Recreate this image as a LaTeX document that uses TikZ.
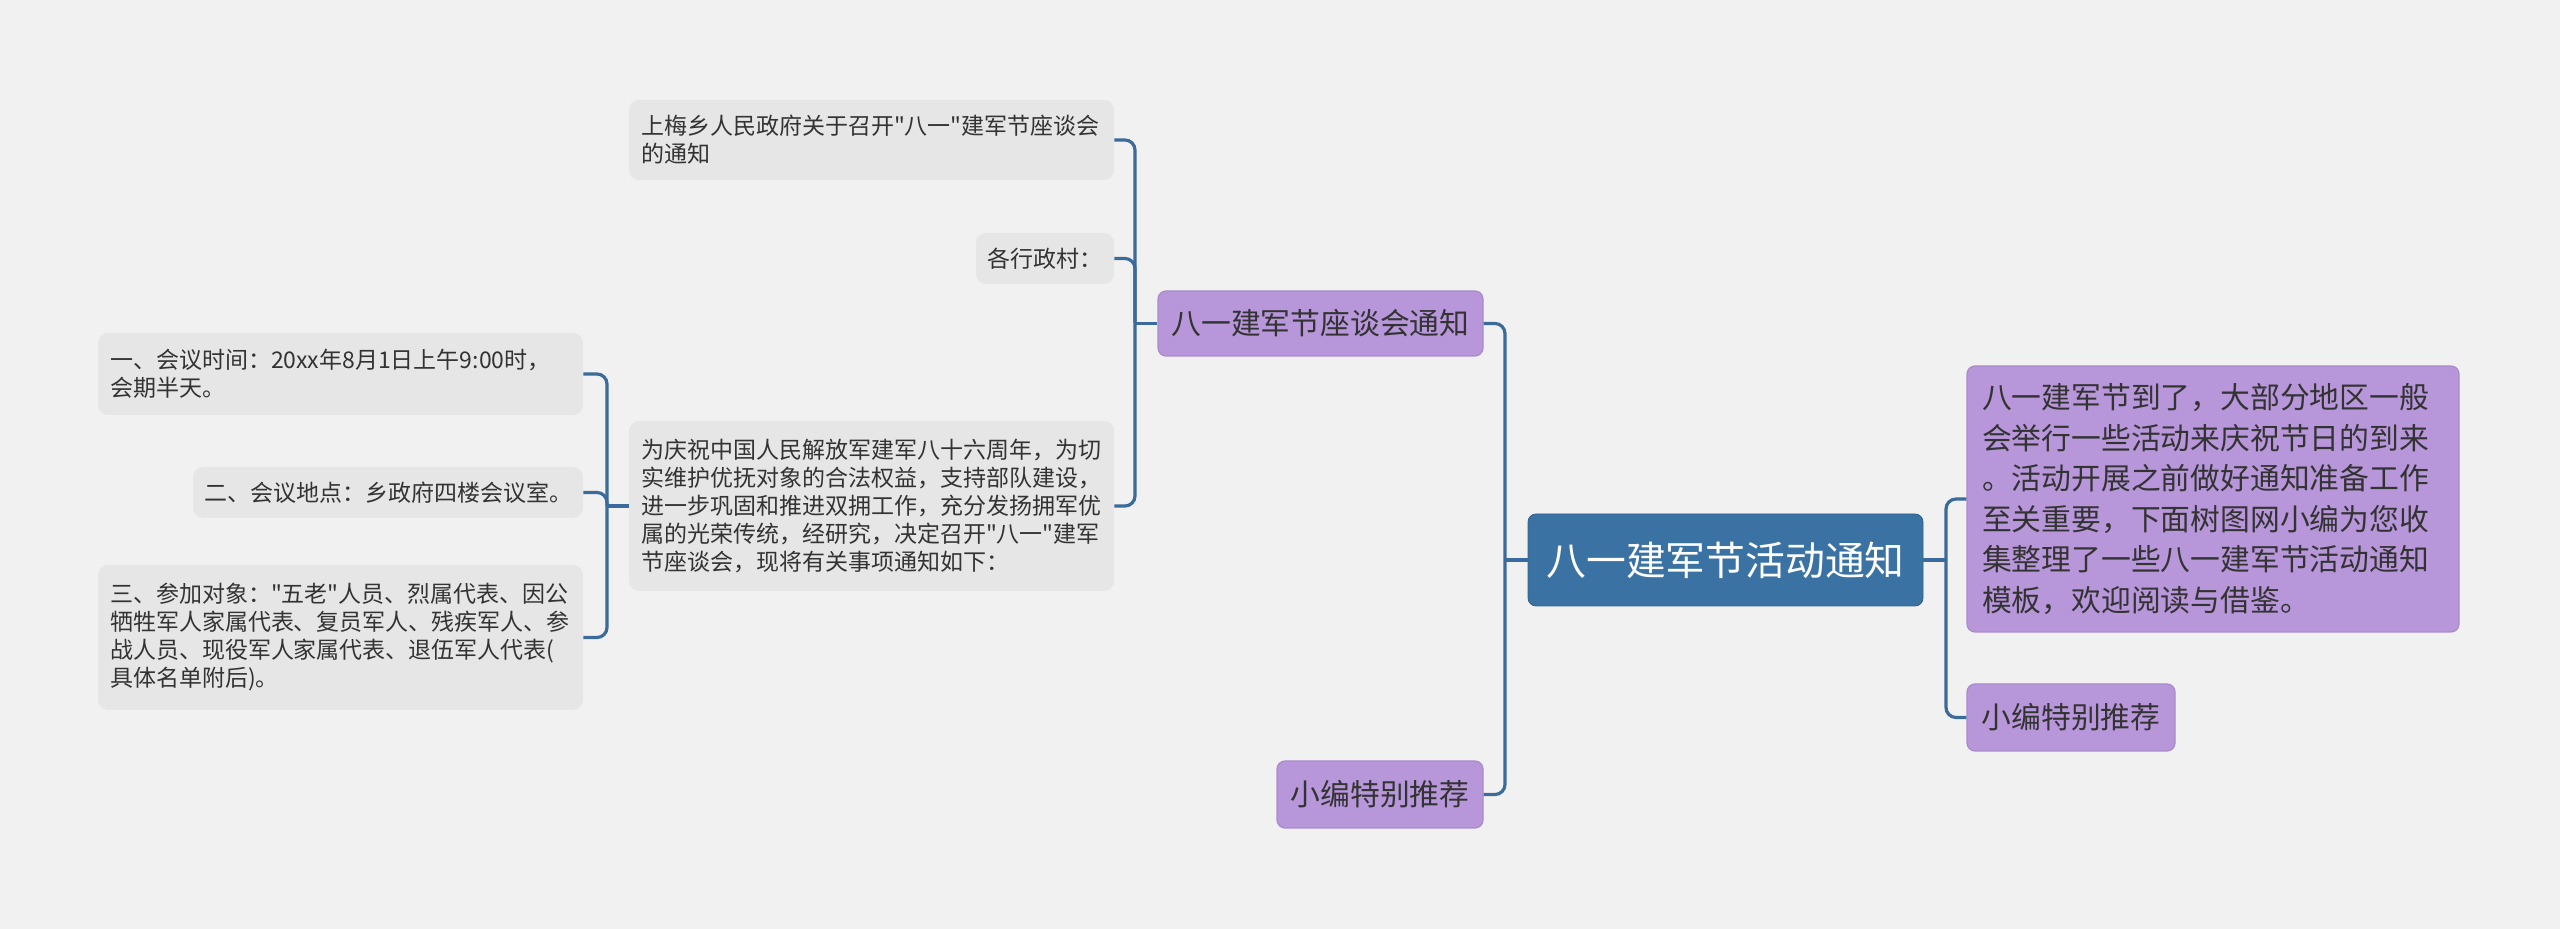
\documentclass[tikz,border=0pt]{standalone}
\usepackage{fontspec}
\setmainfont{Noto Sans CJK SC}[Ligatures=TeXOff]
\usepackage{xcolor}
\usepackage{tikz}

\definecolor{bgcol}{HTML}{F1F1F1}
\definecolor{rootcol}{HTML}{3B72A4}
\definecolor{topiccol}{HTML}{B796DA}
\definecolor{topicline}{HTML}{A98BCB}
\definecolor{notecol}{HTML}{E6E6E6}
\definecolor{linkcol}{HTML}{3A6B9B}
\definecolor{txtcol}{HTML}{333333}

\begin{document}
\begin{tikzpicture}[x=0.5pt, y=-0.5pt,
    root/.style={fill=rootcol, draw=rootcol!85!black, rounded corners=4pt, text=white,
        font=\fontsize{19.9pt}{24pt}\selectfont, inner sep=0pt,
        minimum width=197.5pt, minimum height=46pt},
    topic/.style={fill=topiccol, draw=topicline, line width=0.6pt, rounded corners=4pt,
        text=txtcol, font=\fontsize{14.9pt}{20.3pt}\selectfont, inner sep=0pt,
        minimum height=33pt},
    note/.style={fill=notecol, rounded corners=5pt, text=txtcol,
        font=\fontsize{11.5pt}{14pt}\selectfont, inner sep=0pt, align=left},
    longnote/.style={note, inner xsep=6pt, text width=230.5pt},
    link/.style={draw=linkcol, line width=1.6pt, rounded corners=5pt}]
    % Canvas
    \fill[bgcol] (0,0) rectangle (2560,929);
    \useasboundingbox (0,0) rectangle (2560,929);

    % Nodes
    \node[root] (root) at (1725.5,560) {八一建军节活动通知};
    \node[topic, inner xsep=7.5pt, text width=231pt, align=left, minimum height=133pt] (summary) at (2213,499)
        {八一建军节到了，大部分地区一般\\会举行一些活动来庆祝节日的到来\\。活动开展之前做好通知准备工作\\至关重要，下面树图网小编为您收\\集整理了一些八一建军节活动通知\\模板，欢迎阅读与借鉴。};
    \node[topic, minimum width=104pt, minimum height=33.5pt] (recR) at (2071,717.5) {小编特别推荐};
    \node[topic, minimum width=162.5pt, minimum height=32.5pt] (meet) at (1320.5,323.5) {八一建军节座谈会通知};
    \node[topic, minimum width=103pt, minimum height=33.5pt] (recL) at (1380,794.5) {小编特别推荐};

    \node[longnote, minimum height=40pt] (title) at (871.5,140)
        {上梅乡人民政府关于召开"八一"建军节座谈会\\的通知};
    \node[note, minimum width=69pt, minimum height=25.5pt] (village) at (1045,258.5) {各行政村：};
    \node[longnote, minimum height=85pt] (intro) at (871.5,506)
        {为庆祝中国人民解放军建军八十六周年，为切\\实维护优抚对象的合法权益，支持部队建设，\\进一步巩固和推进双拥工作，充分发扬拥军优\\属的光荣传统，经研究，决定召开"八一"建军\\节座谈会，现将有关事项通知如下：};

    \node[longnote, minimum height=41pt] (time) at (340.5,374)
        {一、会议时间：20xx年8月1日上午9:00时，\\会期半天。};
    \node[note, minimum width=195pt, minimum height=25.5pt] (place) at (388,492.5) {二、会议地点：乡政府四楼会议室。};
    \node[longnote, minimum height=72.5pt] (attend) at (340.5,637.5)
        {三、参加对象："五老"人员、烈属代表、因公\\牺牲军人家属代表、复员军人、残疾军人、参\\战人员、现役军人家属代表、退伍军人代表(\\具体名单附后)。};

    % Buses
    \coordinate (busL) at (1505,560);
    \coordinate (busR) at (1946,560);
    \coordinate (meetbus) at (1135,323.5);
    \coordinate (introbus) at (607,506);

    % Links
    \draw[link] (root.west) -- (busL);
    \draw[link] (busL) |- (meet.east);
    \draw[link] (busL) |- (recL.east);
    \draw[link] (root.east) -- (busR);
    \draw[link] (busR) |- (summary.west);
    \draw[link] (busR) |- (recR.west);
    \draw[link] (meet.west) -- (meetbus);
    \draw[link] (meetbus) |- (title.east);
    \draw[link] (meetbus) |- (village.east);
    \draw[link] (meetbus) |- (intro.east);
    \draw[link] (intro.west) -- (introbus);
    \draw[link] (introbus) |- (time.east);
    \draw[link] (introbus) |- (place.east);
    \draw[link] (introbus) |- (attend.east);
\end{tikzpicture}
\end{document}
